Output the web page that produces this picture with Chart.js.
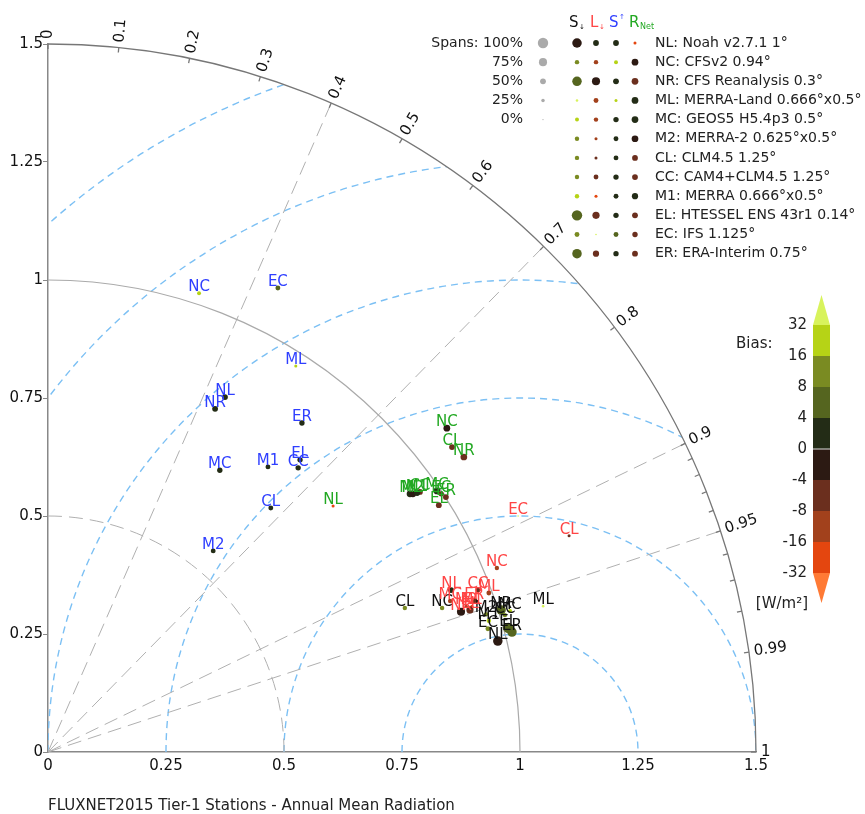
<!DOCTYPE html>
<html>
<head>
<meta charset="utf-8">
<script src="https://cdn.jsdelivr.net/npm/chart.js@4.4.1/dist/chart.umd.min.js"></script>
<style>
  html, body { margin: 0; padding: 0; background: #fff; }
  canvas { display: block; }
</style>
</head>
<body>
<canvas id="taylor" width="865" height="814"></canvas>
<script>
// Models (short code + full name), same order in every array below
const models = ['NL', 'NC', 'NR', 'ML', 'MC', 'M2', 'CL', 'CC', 'M1', 'EL', 'EC', 'ER'];
const modelNames = ['Noah v2.7.1 1°', 'CFSv2 0.94°', 'CFS Reanalysis 0.3°', 'MERRA-Land 0.666°x0.5°',
  'GEOS5 H5.4p3 0.5°', 'MERRA-2 0.625°x0.5°', 'CLM4.5 1.25°', 'CAM4+CLM4.5 1.25°',
  'MERRA 0.666°x0.5°', 'HTESSEL ENS 43r1 0.14°', 'IFS 1.125°', 'ERA-Interim 0.75°'];

// Normalised std-dev components (x = s*R, y = s*sqrt(1-R^2))
// S down (black labels)
const sdnX = [0.953, 0.835, 0.960, 1.049, 0.979, 0.928, 0.756, 0.968, 0.934, 0.975, 0.932, 0.983];
const sdnY = [0.235, 0.305, 0.301, 0.309, 0.299, 0.292, 0.305, 0.290, 0.278, 0.263, 0.261, 0.254];
// L down (red labels)
const ldnX = [0.854, 0.951, 0.875, 0.934, 0.852, 0.886, 1.104, 0.911, 0.898, 0.894, 0.996, 0.903];
const ldnY = [0.343, 0.390, 0.297, 0.337, 0.320, 0.309, 0.458, 0.343, 0.309, 0.301, 0.500, 0.320];
// S up (blue labels)
const supX = [0.375, 0.320, 0.354, 0.525, 0.364, 0.350, 0.472, 0.530, 0.466, 0.534, 0.487, 0.538];
const supY = [0.752, 0.972, 0.727, 0.818, 0.597, 0.426, 0.517, 0.602, 0.604, 0.619, 0.983, 0.697];
// R net (green labels)
const rnetX = [0.604, 0.845, 0.881, 0.767, 0.824, 0.773, 0.856, 0.788, 0.782, 0.828, 0.833, 0.843];
const rnetY = [0.521, 0.686, 0.625, 0.547, 0.553, 0.547, 0.646, 0.551, 0.549, 0.523, 0.547, 0.540];

// Bias [W/m2] per variable
const sdnBias  = [-2, 10, 6, 40, 20, 10, 10, 10, 20, 6, 10, 6];
const ldnBias  = [2, -10, -2, -10, -10, -12, -6, -6, -20, -6, 40, -6];
const supBias  = [2, 20, 2, 20, 2, 2, 2, 2, 2, 2, 6, 2];
const rnetBias = [-20, -2, -6, 2, 2, -2, -6, -6, 2, -6, -6, -6];

// Spans [%] per variable (dot size)
const sdnSpan  = [90, 35, 90, 15, 30, 35, 35, 35, 35, 100, 40, 90];
const ldnSpan  = [50, 35, 75, 40, 35, 20, 20, 40, 20, 65, 5, 55];
const supSpan  = [50, 30, 50, 20, 45, 40, 40, 45, 40, 45, 40, 45];
const rnetSpan = [20, 60, 60, 60, 60, 60, 50, 50, 55, 50, 45, 50];

const spanLevels = [100, 75, 50, 25, 0];

// Colour bar
const biasTicks = [32, 16, 8, 4, 0, -4, -8, -16, -32];
const biasColors = ['#d8f35c', '#b6d316', '#7a8b22', '#55651f', '#232c16',
                    '#2c1a13', '#6b2f1e', '#a2411c', '#e4460f', '#ff7a35']; // top (>32) to bottom (<-32)

// Taylor grid
const corrMajor = [0, 0.1, 0.2, 0.3, 0.4, 0.5, 0.6, 0.7, 0.8, 0.9, 0.95, 0.99, 1];
const corrMinor = [0.91, 0.92, 0.93, 0.94, 0.96, 0.97, 0.98];
const corrLines = [0.4, 0.7, 0.9, 0.95];
const rmsLevels = [0.25, 0.5, 0.75, 1, 1.25, 1.5];

const varLabelColors = ['#111111', '#ff4545', '#2f3fff', '#22a822'];

function biasColor(b) {
  for (let i = 0; i < biasTicks.length; i++) {
    if (b >= biasTicks[i]) return biasColors[i];
  }
  return biasColors[biasColors.length - 1];
}
function spanRadius(s) { return 0.6 + 4.6 * s / 100; }

function makeSet(xs, ys, bias, span) {
  return {
    data: xs.map((v, i) => ({x: v, y: ys[i]})),
    pointBackgroundColor: bias.map(biasColor),
    pointRadius: span.map(spanRadius),
    pointHoverRadius: span.map(spanRadius),
    pointBorderWidth: 0,
    showLine: false
  };
}

const FONT = 'DejaVu Sans, sans-serif';

// grid behind the points, labels/legend/colour bar on top
const taylorGrid = {
  id: 'taylorGrid',
  beforeDatasetsDraw(chart) {
    const ctx = chart.ctx;
    const x = chart.scales.x, y = chart.scales.y;
    const ox = x.getPixelForValue(0), oy = y.getPixelForValue(0);
    const rp = v => x.getPixelForValue(v) - ox;
    const R = rp(1.5);
    ctx.save();
    ctx.beginPath();
    ctx.moveTo(ox, oy);
    ctx.arc(ox, oy, R, -Math.PI / 2, 0);
    ctx.closePath();
    ctx.clip();

    // RMS circles around the reference point
    ctx.strokeStyle = '#7cc0f4';
    ctx.lineWidth = 1.4;
    ctx.setLineDash([7, 5]);
    const cx = x.getPixelForValue(1);
    rmsLevels.forEach(r => {
      ctx.beginPath();
      ctx.arc(cx, oy, rp(r), Math.PI, 2 * Math.PI);
      ctx.stroke();
    });

    // correlation lines
    ctx.strokeStyle = '#b0b0b0';
    ctx.lineWidth = 1;
    ctx.setLineDash([14, 7]);
    corrLines.forEach(c => {
      const th = Math.acos(c);
      ctx.beginPath();
      ctx.moveTo(ox, oy);
      ctx.lineTo(ox + R * Math.cos(th), oy - R * Math.sin(th));
      ctx.stroke();
    });
    // std 0.5 arc
    ctx.beginPath();
    ctx.arc(ox, oy, rp(0.5), -Math.PI / 2, 0);
    ctx.stroke();
    ctx.restore();

    ctx.save();
    // std 1 arc
    ctx.strokeStyle = '#aaaaaa';
    ctx.lineWidth = 1.2;
    ctx.beginPath();
    ctx.arc(ox, oy, rp(1), -Math.PI / 2, 0);
    ctx.stroke();
    // outer arc
    ctx.strokeStyle = '#777777';
    ctx.lineWidth = 1.3;
    ctx.beginPath();
    ctx.arc(ox, oy, R, -Math.PI / 2, 0);
    ctx.stroke();
    // ticks
    corrMajor.concat(corrMinor).forEach(c => {
      const th = Math.acos(c);
      ctx.beginPath();
      ctx.moveTo(ox + (R - 5) * Math.cos(th), oy - (R - 5) * Math.sin(th));
      ctx.lineTo(ox + R * Math.cos(th), oy - R * Math.sin(th));
      ctx.stroke();
    });
    // correlation labels
    ctx.fillStyle = '#111';
    ctx.font = '15px ' + FONT;
    ctx.textAlign = 'left';
    ctx.textBaseline = 'middle';
    corrMajor.forEach(c => {
      const th = Math.acos(c);
      ctx.save();
      ctx.translate(ox + (R + 5) * Math.cos(th), oy - (R + 5) * Math.sin(th));
      ctx.rotate(-th);
      ctx.fillText(String(c), 0, 0);
      ctx.restore();
    });
    ctx.restore();
  },

  afterDatasetsDraw(chart) {
    const ctx = chart.ctx;
    ctx.save();
    // point labels
    ctx.font = '15px ' + FONT;
    ctx.textAlign = 'center';
    ctx.textBaseline = 'alphabetic';
    chart.data.datasets.forEach((ds, i) => {
      const meta = chart.getDatasetMeta(i);
      ctx.fillStyle = varLabelColors[i];
      meta.data.forEach((pt, j) => {
        ctx.fillText(models[j], pt.x, pt.y - 2);
      });
    });

    // legend header
    ctx.textAlign = 'left';
    ctx.font = '15px ' + FONT;
    ctx.fillStyle = '#111'; ctx.fillText('S', 569, 27);
    ctx.fillStyle = '#ff4545'; ctx.fillText('L', 590, 27);
    ctx.fillStyle = '#2f3fff'; ctx.fillText('S', 609, 27);
    ctx.fillStyle = '#22a822'; ctx.fillText('R', 629, 27);
    ctx.font = '7px ' + FONT;
    ctx.fillStyle = '#111'; ctx.fillText('↓', 579, 29);
    ctx.fillStyle = '#ff4545'; ctx.fillText('↓', 599, 29);
    ctx.fillStyle = '#2f3fff'; ctx.fillText('↑', 619, 19);
    ctx.font = '8px ' + FONT;
    ctx.fillStyle = '#22a822'; ctx.fillText('Net', 640, 29);

    // legend rows
    const colX = [577, 596, 616, 635];
    const biasSets = [sdnBias, ldnBias, supBias, rnetBias];
    const spanSets = [sdnSpan, ldnSpan, supSpan, rnetSpan];
    ctx.textBaseline = 'middle';
    models.forEach((m, j) => {
      const ry = 43 + j * 19.15;
      for (let k = 0; k < 4; k++) {
        ctx.fillStyle = biasColor(biasSets[k][j]);
        ctx.beginPath();
        ctx.arc(colX[k], ry, spanRadius(spanSets[k][j]), 0, 2 * Math.PI);
        ctx.fill();
      }
      ctx.fillStyle = '#222';
      ctx.font = '14px ' + FONT;
      ctx.fillText(m + ': ' + modelNames[j], 655, ry);
    });

    // spans legend
    ctx.font = '14px ' + FONT;
    ctx.textAlign = 'right';
    spanLevels.forEach((s, k) => {
      const ry = 43 + k * 19.15;
      ctx.fillStyle = '#222';
      ctx.fillText((k === 0 ? 'Spans: ' : '') + s + '%', 523, ry);
      ctx.fillStyle = '#aaaaaa';
      ctx.beginPath();
      ctx.arc(543, ry, spanRadius(s), 0, 2 * Math.PI);
      ctx.fill();
    });

    // colour bar
    const bx = 813, bw = 17, top = 325, step = 31;
    for (let i = 0; i < biasTicks.length - 1; i++) {
      ctx.fillStyle = biasColors[i + 1];
      ctx.fillRect(bx, top + i * step, bw, step);
    }
    ctx.fillStyle = biasColors[0];
    ctx.beginPath();
    ctx.moveTo(bx, top); ctx.lineTo(bx + bw / 2, top - 30); ctx.lineTo(bx + bw, top); ctx.closePath();
    ctx.fill();
    const bot = top + step * (biasTicks.length - 1);
    ctx.fillStyle = biasColors[biasColors.length - 1];
    ctx.beginPath();
    ctx.moveTo(bx, bot); ctx.lineTo(bx + bw / 2, bot + 30); ctx.lineTo(bx + bw, bot); ctx.closePath();
    ctx.fill();
    ctx.strokeStyle = '#dddddd';
    ctx.lineWidth = 1;
    ctx.beginPath();
    ctx.moveTo(bx, top + 4 * step); ctx.lineTo(bx + bw, top + 4 * step);
    ctx.stroke();
    ctx.fillStyle = '#222';
    ctx.font = '15px ' + FONT;
    ctx.textAlign = 'right';
    biasTicks.forEach((t, i) => ctx.fillText(String(t), 807, top + i * step));
    ctx.textAlign = 'left';
    ctx.fillText('Bias:', 736, 344);
    ctx.textAlign = 'right';
    ctx.fillText('[W/m²]', 808, 604);

    // title
    ctx.textAlign = 'left';
    ctx.fillStyle = '#222';
    ctx.fillText('FLUXNET2015 Tier-1 Stations - Annual Mean Radiation', 48, 806);
    ctx.restore();
  }
};

const ctxEl = document.getElementById('taylor');
new Chart(ctxEl, {
  type: 'scatter',
  data: {
    datasets: [
      makeSet(sdnX, sdnY, sdnBias, sdnSpan),
      makeSet(ldnX, ldnY, ldnBias, ldnSpan),
      makeSet(supX, supY, supBias, supSpan),
      makeSet(rnetX, rnetY, rnetBias, rnetSpan)
    ]
  },
  options: {
    responsive: false,
    animation: false,
    devicePixelRatio: 1,
    events: [],
    layout: { padding: { left: 0, right: 109, top: 44, bottom: 0 } },
    plugins: { legend: { display: false }, tooltip: { enabled: false } },
    scales: {
      x: {
        type: 'linear', min: 0, max: 1.5,
        afterFit: s => { s.height = 62; },
        grid: { display: true, drawOnChartArea: false, drawTicks: false },
        border: { color: '#888888', width: 1.5 },
        ticks: { stepSize: 0.25, padding: 5, color: '#111', font: { family: FONT, size: 15 },
                 callback: v => String(v), maxRotation: 0, autoSkip: false }
      },
      y: {
        type: 'linear', min: 0, max: 1.5,
        afterFit: s => { s.width = 48; },
        grid: { display: true, drawOnChartArea: false, drawTicks: true, tickLength: 5, color: '#888888' },
        border: { color: '#888888', width: 1.5 },
        ticks: { stepSize: 0.25, padding: 0, color: '#111', font: { family: FONT, size: 15 },
                 callback: v => String(v), autoSkip: false }
      }
    }
  },
  plugins: [taylorGrid]
});
</script>
</body>
</html>
